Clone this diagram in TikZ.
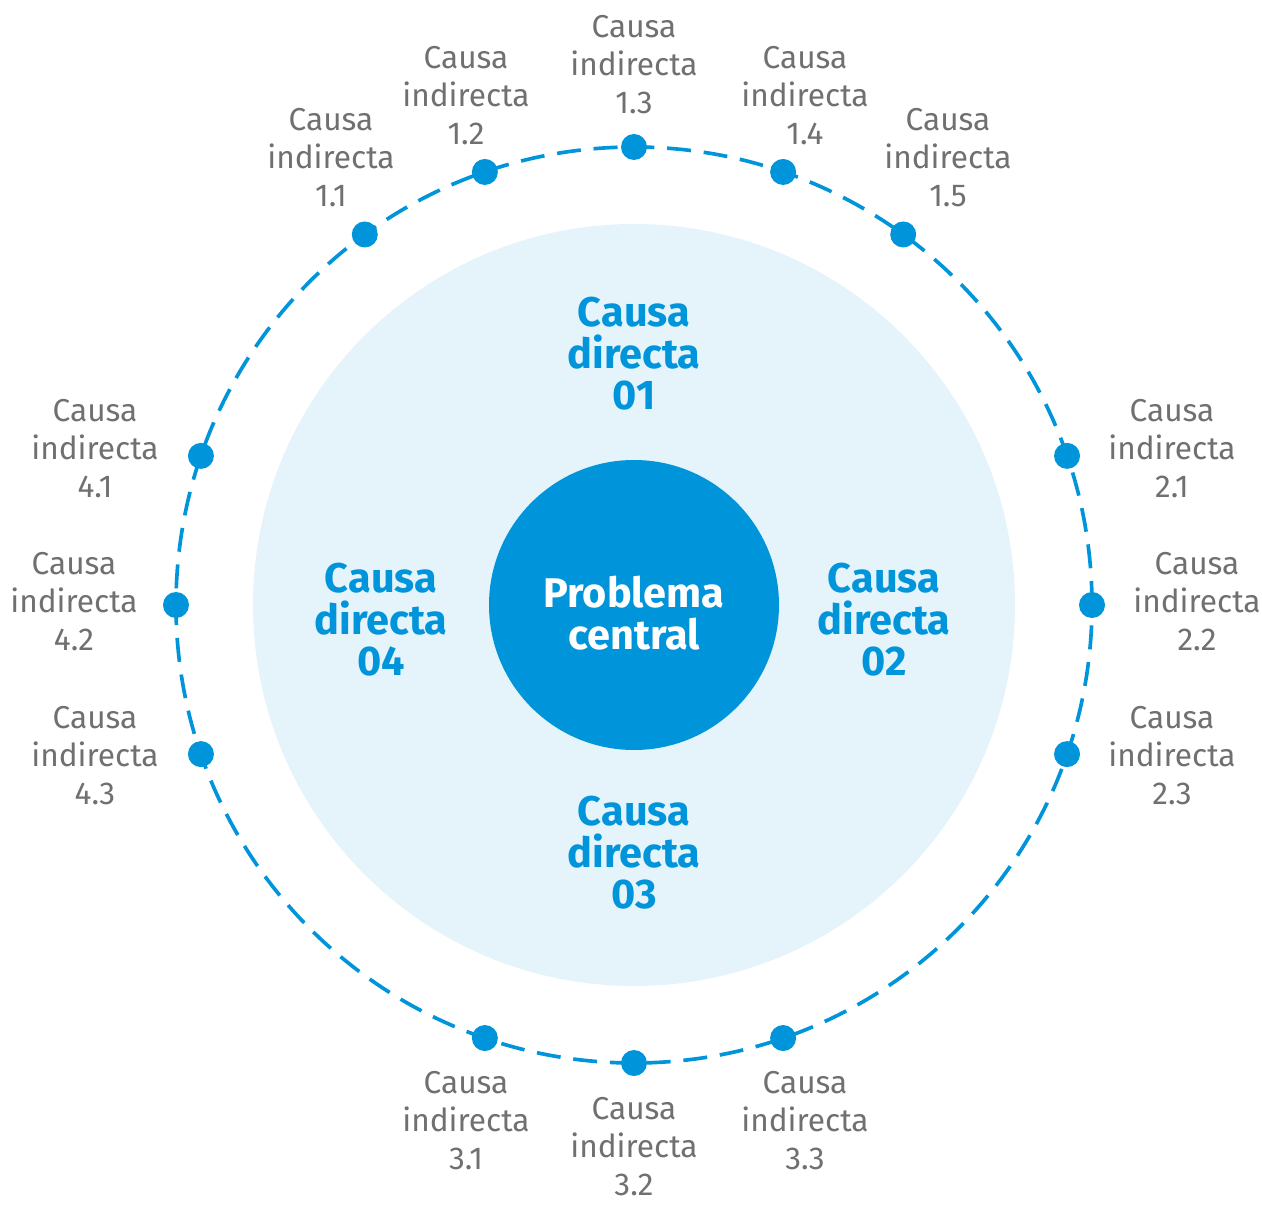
\documentclass[tikz,border=0pt]{standalone}
\usepackage{fontspec}
\setmainfont{Fira Sans}
\definecolor{mainblue}{RGB}{0,149,218}
\definecolor{paleblue}{RGB}{229,243,250}
\definecolor{labelgray}{RGB}{112,112,112}
\usetikzlibrary{positioning}
\tikzset{
  causedot/.style={circle, fill=mainblue, inner sep=0pt, minimum size=0.65cm},
  indirect/.style={align=center, text=labelgray, inner sep=0pt,
    font=\fontsize{22.5}{27}\selectfont},
  direct/.style={align=center, text=mainblue, inner sep=0pt,
    font=\fontsize{29.5}{29.5}\selectfont\bfseries},
}

\begin{document}
\begin{tikzpicture}
  \useasboundingbox (-15.85,-14.975) rectangle (15.7,15.125);

  % circles
  \fill [paleblue] (0,0) circle (9.525);
  \draw [mainblue, line width=2.6pt, dash pattern=on 0.6cm off 0.32cm] (0,0) circle (11.45);
  \node [circle, fill=mainblue, minimum size=7.25cm, inner sep=0pt, text=white, align=center,
    font=\fontsize{29.5}{30}\selectfont\bfseries] (problem) at (0,0) {};
  \node [text=white, align=center, inner sep=0pt,
    font=\fontsize{29.5}{30}\selectfont\bfseries] (problemtext) at (0,-0.2) {Problema\\central};

  % direct causes
  \node [direct] (c1) at (0,6.275) {Causa\\directa\\01};
  \node [direct] (c2) at (6.25,-0.375) {Causa\\directa\\02};
  \node [direct] (c3) at (0,-6.2) {Causa\\directa\\03};
  \node [direct] (c4) at (-6.325,-0.375) {Causa\\directa\\04};

  % dots on the dashed ring
  \node [causedot] (d11) at (126:11.45) {};
  \node [causedot] (d12) at (109:11.45) {};
  \node [causedot] (d13) at (90:11.45) {};
  \node [causedot] (d14) at (71:11.45) {};
  \node [causedot] (d15) at (54:11.45) {};
  \node [causedot] (d21) at (19:11.45) {};
  \node [causedot] (d22) at (0:11.45) {};
  \node [causedot] (d23) at (-19:11.45) {};
  \node [causedot] (d31) at (251:11.45) {};
  \node [causedot] (d32) at (270:11.45) {};
  \node [causedot] (d33) at (289:11.45) {};
  \node [causedot] (d41) at (161:11.45) {};
  \node [causedot] (d42) at (180:11.45) {};
  \node [causedot] (d43) at (199:11.45) {};

  % indirect causes
  \node [indirect] (l11) at (-7.575,11.175) {Causa\\indirecta\\1.1};
  \node [indirect] (l12) at (-4.2,12.725) {Causa\\indirecta\\1.2};
  \node [indirect] (l13) at (0,13.5) {Causa\\indirecta\\1.3};
  \node [indirect] (l14) at (4.275,12.725) {Causa\\indirecta\\1.4};
  \node [indirect] (l15) at (7.85,11.175) {Causa\\indirecta\\1.5};
  \node [indirect] (l21) at (13.45,3.9) {Causa\\indirecta\\2.1};
  \node [indirect] (l22) at (14.075,0.075) {Causa\\indirecta\\2.2};
  \node [indirect] (l23) at (13.45,-3.775) {Causa\\indirecta\\2.3};
  \node [indirect] (l31) at (-4.2,-12.9) {Causa\\indirecta\\3.1};
  \node [indirect] (l32) at (0,-13.55) {Causa\\indirecta\\3.2};
  \node [indirect] (l33) at (4.275,-12.9) {Causa\\indirecta\\3.3};
  \node [indirect] (l41) at (-13.475,3.9) {Causa\\indirecta\\4.1};
  \node [indirect] (l42) at (-14.0,0.075) {Causa\\indirecta\\4.2};
  \node [indirect] (l43) at (-13.475,-3.775) {Causa\\indirecta\\4.3};
\end{tikzpicture}
\end{document}
